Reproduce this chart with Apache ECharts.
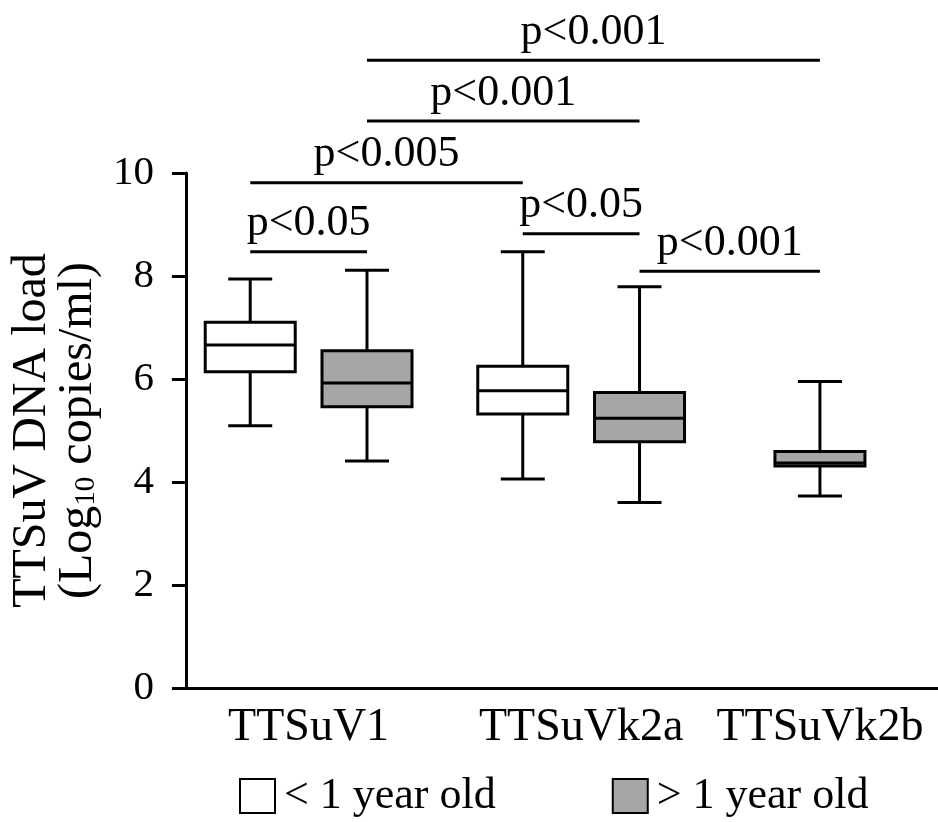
<!DOCTYPE html>
<html>
<head>
<meta charset="utf-8">
<script src="https://cdn.jsdelivr.net/npm/echarts@6/dist/echarts.min.js"></script>
<style>
  html, body { margin: 0; padding: 0; background: #fff; }
  #chart { width: 938px; height: 822px; }
</style>
</head>
<body>
<div id="chart"></div>
<script>
// ---------------- DATA ----------------
const categories = ['TTSuV1', 'TTSuVk2a', 'TTSuVk2b'];
const groupNames = ['< 1 year old', '> 1 year old'];
// five-number summaries per category: [min, Q1, median, Q3, max]; null = no box
const under1Year = [
  [5.09, 6.14, 6.66, 7.10, 7.94],
  [4.06, 5.32, 5.77, 6.25, 8.47],
  null
];
const over1Year = [
  [4.41, 5.46, 5.92, 6.55, 8.11],
  [3.60, 4.78, 5.24, 5.74, 7.79],
  [3.73, 4.31, 4.37, 4.59, 5.95]
];
const yTicks = [0, 2, 4, 6, 8, 10];
// pairwise comparisons: [categoryIndex, groupIndex]
const compLabels = ['p<0.05', 'p<0.005', 'p<0.001', 'p<0.001', 'p<0.05', 'p<0.001'];
const compFrom = [[0, 0], [0, 0], [0, 1], [0, 1], [1, 0], [1, 1]];
const compTo   = [[0, 1], [1, 0], [1, 1], [2, 1], [1, 1], [2, 1]];
const compLevel = [8.47, 9.81, 11.01, 12.19, 8.82, 8.09];

// ---------------- LAYOUT ----------------
const xSpan = 760;                       // x-axis units across the grid
const categoryX = [124, 399.4, 640.7];   // category centres on the x axis
const groupShift = 59;                   // offset of each group box from the centre
const boxHalf = 45;                      // px
const capHalf = 22;                      // px
const FONT = 'Liberation Serif';
const GREY = '#a6a6a6';

const groups = [under1Year, over1Year];
function boxX(cat, g) {
  const both = groups[0][cat] && groups[1][cat];
  if (!both) return categoryX[cat];
  return categoryX[cat] + (g === 0 ? -groupShift : groupShift);
}
function seriesData(g) {
  const out = [];
  groups[g].forEach(function (s, c) {
    if (s) out.push([boxX(c, g)].concat(s));
  });
  return out;
}

function renderBox(fill) {
  return function (params, api) {
    const x = api.value(0);
    const pMin = api.coord([x, api.value(1)]);
    const pQ1 = api.coord([x, api.value(2)]);
    const pMed = api.coord([x, api.value(3)]);
    const pQ3 = api.coord([x, api.value(4)]);
    const pMax = api.coord([x, api.value(5)]);
    const cx = pMed[0];
    const ls = { stroke: '#000', lineWidth: 3, fill: null };
    return {
      type: 'group',
      children: [
        { type: 'line', shape: { x1: cx, y1: pMax[1], x2: cx, y2: pQ3[1] }, style: ls },
        { type: 'line', shape: { x1: cx, y1: pQ1[1], x2: cx, y2: pMin[1] }, style: ls },
        { type: 'line', shape: { x1: cx - capHalf, y1: pMax[1], x2: cx + capHalf, y2: pMax[1] }, style: ls },
        { type: 'line', shape: { x1: cx - capHalf, y1: pMin[1], x2: cx + capHalf, y2: pMin[1] }, style: ls },
        { type: 'rect', shape: { x: cx - boxHalf, y: pQ3[1], width: boxHalf * 2, height: pQ1[1] - pQ3[1] },
          style: { fill: fill, stroke: '#000', lineWidth: 3 } },
        { type: 'line', shape: { x1: cx - boxHalf, y1: pMed[1], x2: cx + boxHalf, y2: pMed[1] }, style: ls }
      ]
    };
  };
}

const compData = compLabels.map(function (lab, i) {
  return [boxX(compFrom[i][0], compFrom[i][1]), boxX(compTo[i][0], compTo[i][1]), compLevel[i], lab];
});

const chart = echarts.init(document.getElementById('chart'), null, { renderer: 'canvas' });
chart.setOption({
  animation: false,
  backgroundColor: '#fff',
  grid: { left: 178, right: 0, top: 173, bottom: 134, containLabel: false },
  legend: {
    left: 234, top: 769,
    icon: 'rect', itemWidth: 35, itemHeight: 34, itemGap: 116,
    textStyle: { fontFamily: FONT, fontSize: 44, color: '#000', padding: [0, 0, 0, 4] },
    data: [
      { name: groupNames[0], itemStyle: { color: '#fff', borderColor: '#000', borderWidth: 2 } },
      { name: groupNames[1], itemStyle: { color: GREY, borderColor: '#000', borderWidth: 2 } }
    ]
  },
  xAxis: {
    type: 'value', min: 0, max: xSpan,
    axisLine: { show: true, lineStyle: { color: '#000', width: 3 } },
    axisTick: { show: false },
    splitLine: { show: false },
    axisLabel: {
      customValues: categoryX,
      formatter: function (v) {
        let best = 0;
        categoryX.forEach(function (c, i) { if (Math.abs(c - v) < Math.abs(categoryX[best] - v)) best = i; });
        return categories[best];
      },
      fontFamily: FONT, fontSize: 46, color: '#000', margin: 17
    }
  },
  yAxis: {
    type: 'value', min: yTicks[0], max: yTicks[yTicks.length - 1], interval: 2,
    axisLine: { show: true, lineStyle: { color: '#000', width: 3 } },
    axisTick: { show: true, length: 14, lineStyle: { color: '#000', width: 3 } },
    splitLine: { show: false },
    axisLabel: { fontFamily: FONT, fontSize: 41, color: '#000', margin: 32 },
    name: 'TTSuV DNA load\n(Log{sub|10} copies/ml)',
    nameLocation: 'middle', nameRotate: 90, nameGap: 75,
    nameTextStyle: {
      fontFamily: FONT, fontSize: 48, color: '#000', lineHeight: 46,
      rich: { sub: { fontFamily: FONT, fontSize: 29, color: '#000', verticalAlign: 'bottom', lineHeight: 30 } }
    }
  },
  series: [
    { name: groupNames[0], type: 'custom', renderItem: renderBox('#fff'), data: seriesData(0),
      itemStyle: { color: '#fff' }, encode: { x: 0, y: [1, 2, 3, 4, 5] }, clip: false, z: 3 },
    { name: groupNames[1], type: 'custom', renderItem: renderBox(GREY), data: seriesData(1),
      itemStyle: { color: GREY }, encode: { x: 0, y: [1, 2, 3, 4, 5] }, clip: false, z: 3 },
    { name: 'comparisons', type: 'custom', clip: false, z: 4, silent: true,
      data: compData, encode: { x: [0, 1], y: 2 },
      renderItem: function (params, api) {
        const a = api.coord([api.value(0), api.value(2)]);
        const b = api.coord([api.value(1), api.value(2)]);
        const label = compData[params.dataIndex][3];
        return {
          type: 'group',
          children: [
            { type: 'line', shape: { x1: a[0], y1: a[1], x2: b[0], y2: b[1] },
              style: { stroke: '#000', lineWidth: 3 } },
            { type: 'text', style: { text: label, x: (a[0] + b[0]) / 2, y: a[1] - 6,
              align: 'center', verticalAlign: 'bottom', fontFamily: FONT, fontSize: 44, fill: '#000' } }
          ]
        };
      }
    }
  ]
});
</script>
</body>
</html>
